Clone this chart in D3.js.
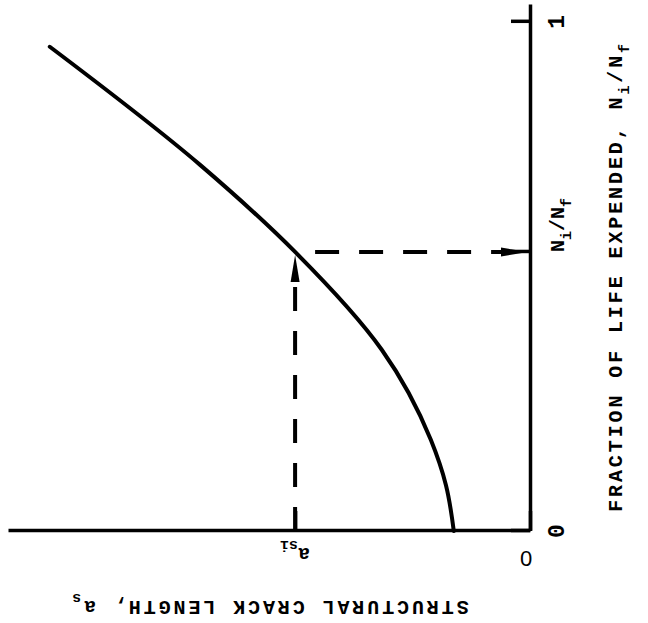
<!DOCTYPE html>
<html>
<head>
<meta charset="utf-8">
<script src="https://cdn.jsdelivr.net/npm/d3@7"></script>
<style>
  html, body { margin: 0; padding: 0; background: #fff; }
  svg { display: block; }
  text { font-family: "Liberation Mono", "DejaVu Sans Mono", monospace; font-weight: bold; fill: #000; }
</style>
</head>
<body>
<script>
// crack growth curve: fraction of life expended vs structural crack length
var lifeFraction = [0, 0.09, 0.179, 0.356, 0.548, 0.719, 0.951];
var crackLength = [0.146, 0.161, 0.19, 0.284, 0.45, 0.632, 0.92];

// the marked point on the curve
var lifeAtCrack = 0.548;   // Ni/Nf
var crackMarked = 0.45;    // a_si

var lifeTicks = [0, lifeAtCrack, 1];
var lifeTickLabels = ["0", "N_{i}/N_{f}", "1"];
var crackTicks = [0, crackMarked];
var crackTickLabels = ["0", "a_{si}"];

var lifeMax = 1.033;
var crackMax = 1;

var lifeTitle = "FRACTION OF LIFE EXPENDED, N_{i}/N_{f}";
var crackTitle = "STRUCTURAL CRACK LENGTH, a_{s}";

var W = 648, H0 = 623;
var plotW = 526, plotH = 522;

var svg = d3.select("body").append("svg").attr("width", W).attr("height", H0);

// the figure is printed turned a quarter turn, so draw it upright and rotate
var chart = svg.append("g").attr("transform", "translate(8,531) rotate(-90)");

var x = d3.scaleLinear().domain([0, lifeMax]).range([0, plotW]);
var y = d3.scaleLinear().domain([0, crackMax]).range([plotH, 0]);

// text with _{..} subscripts
function richText(sel, str, subSize) {
    let parts = str.split(/_\{([^}]*)\}/);
    let cur = 0;
    parts.forEach(function (p, i) {
        if (p === "") return;
        let sub = i % 2 === 1;
        let target = sub ? 7 : 0;
        let t = sel.append("tspan").attr("dy", target - cur).text(p);
        if (sub) t.style("font-size", subSize + "px");
        cur = target;
    });
}

var xAxis = chart.append("g")
    .attr("transform", "translate(0," + plotH + ")")
    .call(d3.axisBottom(x).tickValues(lifeTicks).tickSizeInner(-19).tickSizeOuter(0).tickFormat(""));
var yAxis = chart.append("g")
    .call(d3.axisLeft(y).tickValues(crackTicks).tickSizeInner(-20).tickSizeOuter(0).tickFormat(""));

[xAxis, yAxis].forEach(function (a) {
    a.select(".domain").attr("stroke", "#000").attr("stroke-width", 3.5);
    a.selectAll(".tick line").attr("stroke", "#000").attr("stroke-width", 3.5);
});

// life tick labels
lifeTicks.forEach(function (v, i) {
    let t = chart.append("text")
        .attr("x", x(v))
        .attr("y", plotH + 34)
        .attr("text-anchor", lifeTickLabels[i].length > 1 ? "start" : "middle")
        .style("font-size", lifeTickLabels[i].length > 1 ? "20px" : "23px");
    richText(t, lifeTickLabels[i], 15);
});

// crack tick labels (turned like the axis title)
crackTicks.forEach(function (v, i) {
    let lab = crackTickLabels[i];
    let t = chart.append("text")
        .attr("transform", "translate(" + (v === 0 ? -20 : -17) + "," + (y(v) - (v === 0 ? 4 : 0)) + ") rotate(-90)")
        .attr("text-anchor", "middle")
        .style("font-size", "20px");
    if (v === 0) t.style("font-family", "'Liberation Sans', Arial, sans-serif").style("font-weight", "normal").style("font-size", "22px");
    richText(t, lab, 15);
});

// axis titles
var xt = chart.append("text")
    .attr("x", x(0.5))
    .attr("y", plotH + 92)
    .attr("text-anchor", "middle")
    .style("font-size", "20px")
    .style("letter-spacing", "2.9px");
richText(xt, lifeTitle, 15);

var yt = chart.append("text")
    .attr("transform", "translate(-70," + plotH / 2 + ") rotate(-90)")
    .attr("text-anchor", "middle")
    .style("font-size", "20px")
    .style("letter-spacing", "2.9px");
richText(yt, crackTitle, 15);

// the curve
var pts = lifeFraction.map((d, i) => [d, crackLength[i]]);
chart.append("path")
    .datum(pts)
    .attr("fill", "none")
    .attr("stroke", "#000")
    .attr("stroke-width", 4)
    .attr("stroke-linecap", "round")
    .attr("d", d3.line().x((d) => x(d[0])).y((d) => y(d[1])).curve(d3.curveMonotoneX));

// dashed read-off lines with arrows
var arrow = "M0,0L-27,-4.5L-27,4.5Z";
var arrowLen = 26;

// from a_si across to the curve
chart.append("line")
    .attr("x1", x(0))
    .attr("y1", y(crackMarked))
    .attr("x2", x(lifeAtCrack) - 3 - arrowLen)
    .attr("y2", y(crackMarked))
    .attr("stroke", "#000")
    .attr("stroke-width", 4)
    .attr("stroke-dasharray", "24 20");
chart.append("path")
    .attr("d", arrow)
    .attr("transform", "translate(" + (x(lifeAtCrack) - 3) + "," + y(crackMarked) + ")");

// from the curve down to Ni/Nf
chart.append("line")
    .attr("x1", x(lifeAtCrack))
    .attr("y1", y(crackMarked))
    .attr("x2", x(lifeAtCrack))
    .attr("y2", y(0) - 2 - arrowLen)
    .attr("stroke", "#000")
    .attr("stroke-width", 4)
    .attr("stroke-dasharray", "24 20")
    .attr("stroke-dashoffset", 24);
chart.append("path")
    .attr("d", arrow)
    .attr("transform", "translate(" + x(lifeAtCrack) + "," + (y(0) - 2) + ") rotate(90)");
</script>
</body>
</html>
